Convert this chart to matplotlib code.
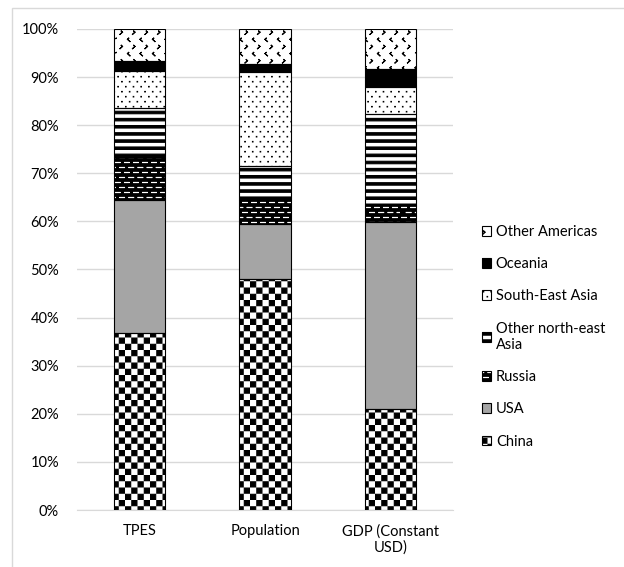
import warnings
import numpy as np
import matplotlib
matplotlib.use("Agg")
import matplotlib.pyplot as plt
import matplotlib.hatch as mhatch
from matplotlib.path import Path
from matplotlib.patches import Patch, Rectangle
from matplotlib.ticker import PercentFormatter, MultipleLocator

# custom hatch letters are not in matplotlib's list, it only warns about them
warnings.filterwarnings("ignore")

plt.rcParams["font.family"] = ["Lato", "DejaVu Sans"]
plt.rcParams["hatch.linewidth"] = 0.8

categories = ["TPES", "Population", "GDP (Constant\nUSD)"]
regions = ["China", "USA", "Russia", "Other north-east\nAsia",
           "South-East Asia", "Oceania", "Other Americas"]

# share of each region in % (bottom to top)
china = [36.8, 48.1, 21.0]
usa = [27.7, 11.4, 38.8]
russia = [8.9, 5.0, 3.9]
other_ne_asia = [10.2, 7.1, 18.7]
se_asia = [7.7, 19.5, 5.6]
oceania = [2.1, 1.6, 3.7]
other_americas = [6.6, 7.3, 8.3]

series = [china, usa, russia, other_ne_asia, se_asia, oceania, other_americas]

# (face colour, hatch colour, hatch)
STYLES = [
    ("white", "black", "c"),      # checkerboard
    ("#A5A5A5", None, None),
    ("black", "white", "r"),      # white dashes on black
    ("white", "black", "h"),      # thick horizontal stripes
    ("white", "black", "d"),      # small dots
    ("black", None, None),
    ("white", "black", "a"),      # little chevrons
]


# ---- custom hatches (tile is 1 inch = 100 px at dpi 100) ----
HALF_STROKE = 0.0055  # hatch lines are ~1.1 px wide


def _rect(x0, y0, x1, y1):
    x0, y0 = x0 + HALF_STROKE, y0 + HALF_STROKE
    x1, y1 = x1 - HALF_STROKE, y1 - HALF_STROKE
    verts = [[x0, y0], [x1, y0], [x1, y1], [x0, y1], [x0, y0]]
    codes = [Path.MOVETO] + [Path.LINETO] * 3 + [Path.CLOSEPOLY]
    return verts, codes


def _polyline(points):
    pts = points + points[-2::-1]  # there and back, so nothing gets filled
    codes = [Path.MOVETO] + [Path.LINETO] * (len(pts) - 1)
    return pts, codes


def checker():
    n = 16
    return [_rect(i / n, j / n, (i + 1) / n, (j + 1) / n)
            for i in range(n) for j in range(n) if (i + j) % 2 == 0]


def stripes():
    n = 14
    return [_rect(-0.05, k / n, 1.05, (k + 0.5) / n) for k in range(n)]


def dashes():
    rows, cols = 20, 11
    out = []
    for r in range(rows):
        y = (r + 0.5) / rows
        for c in range(cols):
            x = (c + 0.2 + 0.5 * (r % 2)) / cols
            out.append(_polyline([[x, y], [x + 0.028, y]]))
    return out


def dots():
    rows, cols = 20, 13
    s = 0.016
    out = []
    for r in range(rows):
        y = (r + 0.5) / rows
        for c in range(cols):
            x = (c + 0.25 + 0.5 * (r % 2)) / cols
            out.append(_rect(x, y, x + s, y + s))
    return out


def chevrons():
    rows, cols = 14, 8
    w, h = 0.012, 0.022
    out = []
    for r in range(rows):
        y = (r + 0.5) / rows
        for c in range(cols):
            x = (c + 0.2 + 0.5 * (r % 2)) / cols
            if r % 2 == 0:
                pts = [[x + w, y + h / 2], [x, y], [x + w, y - h / 2]]
            else:
                pts = [[x, y + h / 2], [x + w, y], [x, y - h / 2]]
            out.append(_polyline(pts))
    return out


HATCH_BUILDERS = {"c": checker, "h": stripes, "r": dashes,
                  "d": dots, "a": chevrons}


class CustomHatch(mhatch.HatchPatternBase):
    def __init__(self, hatch, density):
        shapes = []
        for key, build in HATCH_BUILDERS.items():
            if key in hatch:
                shapes += build()
        self.verts = [v for s in shapes for v in s[0]]
        self.codes = [c for s in shapes for c in s[1]]
        self.num_vertices = len(self.verts)

    def set_vertices_and_codes(self, vertices, codes):
        vertices[:] = self.verts
        codes[:] = self.codes


mhatch._hatch_types.append(CustomHatch)


fig = plt.figure(figsize=(6.24, 5.67), dpi=100)
ax = fig.add_axes([77 / 624, 1 - 510 / 567, 376 / 624, 481 / 567])

x = np.arange(len(categories))
bottom = np.zeros(len(categories))
handles = []
for values, (face, hcolor, hatch) in zip(series, STYLES):
    vals = np.array(values) / 100
    ax.bar(x, vals, 0.41, bottom=bottom, color=face,
           edgecolor=hcolor or face, hatch=hatch, linewidth=0, zorder=2)
    ax.bar(x, vals, 0.41, bottom=bottom, fill=False,
           edgecolor="black", linewidth=0.8, zorder=3)
    handles.append((Patch(facecolor=face, edgecolor=hcolor or face,
                          hatch=hatch, linewidth=0),
                    Patch(fill=False, edgecolor="black", linewidth=0.8)))
    bottom += vals

ax.set_xlim(-0.5, 2.5)
ax.set_ylim(0, 1)
ax.yaxis.set_major_locator(MultipleLocator(0.1))
ax.yaxis.set_major_formatter(PercentFormatter(1.0, decimals=0))
ax.set_xticks(x)
ax.set_xticklabels(categories)
ax.yaxis.grid(True, color="#D9D9D9", linewidth=1)
ax.set_axisbelow(True)
for side in ["top", "right", "left"]:
    ax.spines[side].set_visible(False)
ax.spines["bottom"].set_color("#D9D9D9")
ax.tick_params(axis="y", length=0, pad=13, labelsize=10.5, colors="black")
ax.tick_params(axis="x", length=0, pad=10, labelsize=10.5, colors="black")

fig.legend(handles[::-1], regions[::-1], loc="upper left",
           bbox_to_anchor=(482 / 624, 1 - 225 / 567), frameon=False,
           fontsize=10.5, handlelength=0.65, handleheight=0.65,
           handletextpad=0.3, labelspacing=1.25, borderpad=0,
           borderaxespad=0)

# light chart-area border
fig.patches.append(Rectangle((12 / 624, -0.05), 1.0, 1.05 - 8 / 567,
                             transform=fig.transFigure, fill=False,
                             edgecolor="#D9D9D9", linewidth=1))

plt.savefig("out.png", dpi=100)
plt.close()
